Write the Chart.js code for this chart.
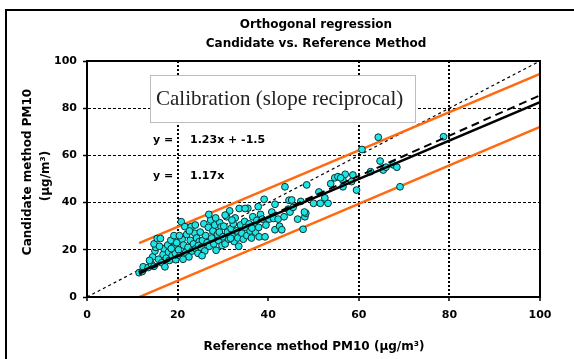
<!DOCTYPE html>
<html>
<head>
<meta charset="utf-8">
<script src="https://cdn.jsdelivr.net/npm/chart.js@4.4.1/dist/chart.umd.min.js"></script>
<style>
  html, body { margin: 0; padding: 0; background: #fff; }
  #wrap { position: relative; width: 574px; height: 359px; }
</style>
</head>
<body>
<div id="wrap"><canvas id="regChart" width="574" height="359"></canvas></div>
<script>
// Reference method PM10 (x) vs candidate method PM10 (y)
const refX = [
  11.5, 12.2, 12.4, 13.5, 14.2, 14.8, 14.5, 15.0, 15.2, 14.8, 15.5, 16.2, 15.8, 13.8,
  16.5, 16.8, 17.0, 17.5, 17.8, 18.0, 18.2, 18.5, 18.8, 19.0, 19.2, 19.5, 19.8, 17.2, 18.6, 16.0, 19.6,
  20.2, 20.5, 20.8, 21.0, 21.3, 21.6, 21.8, 22.0, 22.3, 22.5, 22.8, 23.0, 23.2, 23.5, 23.8, 24.0, 24.2, 24.5, 24.8, 21.2, 22.6, 23.9, 24.6, 20.4,
  25.0, 25.2, 25.5, 25.8, 26.0, 26.2, 26.5, 26.8, 27.0, 27.3, 27.5, 27.8, 28.0, 28.2, 28.5, 28.8, 29.0, 29.3, 29.6, 29.8, 25.4, 26.9, 28.4, 29.2,
  30.0, 30.2, 30.5, 30.8, 31.0, 31.3, 31.5, 31.8, 32.0, 32.3, 32.5, 32.7, 33.0, 33.3, 33.6, 33.9, 34.2, 34.5, 34.8, 31.7, 33.5, 30.5, 32.0,
  35.0, 35.3, 35.5, 35.8, 36.0, 36.3, 36.6, 36.9, 37.2, 37.5, 37.8, 38.0, 38.3, 38.7, 39.1, 39.3, 39.5, 36.4, 37.9, 34.9,
  40.2, 40.8, 41.2, 41.5, 41.5, 42.2, 42.5, 43.0, 43.7, 44.4, 44.6, 44.8, 43.5, 45.2,
  45.5, 46.5, 47.7, 48.1, 48.3, 48.5, 48.0, 47.2,
  50.0, 51.5, 53.2, 51.2, 52.5, 54.7, 53.8,
  55.4, 56.5, 56.5, 57.0, 58.7, 58.4, 59.5, 56.0,
  60.7, 62.6, 64.3, 64.7, 65.4, 67.6, 68.4, 69.1, 66.0, 78.7
];
const candY = [
  10.3, 10.8, 12.8, 12.5, 14.0, 13.0, 17.0, 19.5, 21.0, 22.5, 24.8, 24.8, 16.0, 15.5,
  14.5, 18.0, 20.5, 16.5, 22.0, 19.0, 15.5, 24.0, 17.5, 21.0, 26.0, 18.5, 23.0, 12.8, 20.5, 21.5, 15.8,
  20.0, 17.5, 31.9, 24.5, 22.0, 29.8, 19.0, 26.5, 21.0, 17.0, 24.0, 29.8, 19.5, 22.5, 27.0, 20.5, 25.0, 18.5, 23.5, 16.0, 28.0, 30.5, 21.8, 26.0,
  27.5, 21.0, 24.0, 31.0, 19.5, 26.0, 23.0, 29.5, 21.5, 32.6, 25.0, 28.0, 22.5, 30.5, 19.8, 26.5, 24.0, 31.5, 29.7, 21.8, 17.5, 35.0, 33.5, 27.5,
  25.5, 30.0, 22.5, 34.0, 27.5, 24.5, 36.5, 29.0, 26.0, 31.0, 23.5, 33.5, 28.0, 25.0, 37.5, 30.5, 27.0, 24.5, 32.0, 24.9, 21.5, 34.7, 32.6,
  29.5, 26.0, 37.6, 31.0, 28.0, 25.0, 34.0, 30.0, 27.5, 32.5, 38.3, 25.5, 35.0, 33.0, 41.4, 25.5, 30.5, 29.2, 29.5, 37.5,
  33.0, 36.0, 33.3, 39.3, 28.5, 33.0, 30.0, 28.5, 46.7, 37.2, 41.0, 36.0, 34.0, 41.1,
  38.0, 33.0, 28.7, 34.0, 35.5, 47.5, 36.0, 40.5,
  39.7, 39.7, 39.7, 44.5, 42.0, 50.5, 48.0,
  51.0, 49.5, 46.7, 52.0, 51.7, 48.9, 45.3, 50.5,
  62.5, 53.1, 67.7, 57.6, 53.8, 56.0, 55.0, 46.7, 55.0, 67.9
];

// fitted lines (slope, intercept) and the x range they span
const calibSlope = 1 / 1.23;          // reciprocal of y = 1.23x + -1.5
const calibIntercept = 1.5 / 1.23;
const originSlope = 1 / 1.17;         // reciprocal of y = 1.17x
const upperBand = [0.81, 13.5];
const lowerBand = [0.815, -9.4];
const fitRange = [11.5, 100];
const identityRange = [0, 100];
const xTicks = [0, 20, 40, 60, 80, 100];
const xGridValues = [20, 60, 80];

const lineData = (range, slope, icpt) => range.map(x => ({ x: x, y: slope * x + icpt }));

const tickFont = { family: 'DejaVu Sans', size: 11, weight: 'bold' };

// frame, titles, equations and the calibration note
const decorations = {
  id: 'decorations',
  afterDraw(chart) {
    const ctx = chart.ctx;
    const a = chart.chartArea;
    ctx.save();
    ctx.fillStyle = '#000';
    ctx.fillRect(5, 9, 2, 350);
    ctx.fillRect(5, 9, 569, 2);

    ctx.strokeStyle = '#000';
    ctx.lineWidth = 2;
    ctx.strokeRect(a.left, a.top, a.right - a.left, a.bottom - a.top);

    ctx.textAlign = 'center';
    ctx.textBaseline = 'middle';
    ctx.font = 'bold 12px "DejaVu Sans"';
    ctx.fillText('Orthogonal regression', 316, 25);
    ctx.fillText('Candidate vs. Reference Method', 316, 44);
    ctx.fillText('Reference method PM10 (\u00b5g/m\u00b3)', 314, 347);

    ctx.save();
    ctx.translate(28, 172);
    ctx.rotate(-Math.PI / 2);
    ctx.fillText('Candidate method PM10', 0, 0);
    ctx.restore();
    ctx.save();
    ctx.translate(46, 176);
    ctx.rotate(-Math.PI / 2);
    ctx.fillText('(\u00b5g/m\u00b3)', 0, 0);
    ctx.restore();

    ctx.textAlign = 'left';
    ctx.font = 'bold 11px "DejaVu Sans"';
    ctx.fillText('y =', 153, 140);
    ctx.fillText('1.23x + -1.5', 190, 140);
    ctx.fillText('y =', 153, 176);
    ctx.fillText('1.17x', 190, 176);

    ctx.fillStyle = '#fff';
    ctx.fillRect(150, 75, 265, 48);
    ctx.strokeStyle = '#bdbdbd';
    ctx.lineWidth = 1;
    ctx.strokeRect(150.5, 75.5, 265, 47);
    ctx.fillStyle = '#222';
    ctx.font = '21px "Liberation Serif"';
    ctx.fillText('Calibration (slope reciprocal)', 156, 99);
    ctx.restore();
  }
};

new Chart(document.getElementById('regChart'), {
  type: 'scatter',
  data: {
    datasets: [
      {
        type: 'line', label: 'calibration', order: 0,
        data: lineData(fitRange, calibSlope, calibIntercept),
        borderColor: '#000', borderWidth: 2.5, pointRadius: 0, fill: false
      },
      {
        type: 'line', label: 'through origin', order: 0,
        data: lineData(fitRange, originSlope, 0),
        borderColor: '#000', borderWidth: 2, borderDash: [8, 5], pointRadius: 0, fill: false
      },
      {
        label: 'measurements', order: 1,
        data: refX.map((x, i) => ({ x: x, y: candY[i] })),
        backgroundColor: '#1ee6e6', borderColor: '#0a2f2f', borderWidth: 1, pointRadius: 3.4
      },
      {
        type: 'line', label: 'upper', order: 2,
        data: lineData(fitRange, upperBand[0], upperBand[1]),
        borderColor: '#ff6a10', borderWidth: 2.5, pointRadius: 0, fill: false
      },
      {
        type: 'line', label: 'lower', order: 2,
        data: lineData(fitRange, lowerBand[0], lowerBand[1]),
        borderColor: '#ff6a10', borderWidth: 2.5, pointRadius: 0, fill: false
      },
      {
        type: 'line', label: '1:1', order: 3,
        data: lineData(identityRange, 1, 0),
        borderColor: '#000', borderWidth: 1.2, borderDash: [3, 3], pointRadius: 0, fill: false
      }
    ]
  },
  options: {
    responsive: false,
    animation: false,
    layout: { padding: { left: 0, top: 61, right: 34, bottom: 0 } },
    plugins: {
      legend: { display: false },
      tooltip: { enabled: false }
    },
    scales: {
      x: {
        type: 'linear', min: 0, max: 100,
        afterFit: s => { s.height = 62; },
        afterBuildTicks: s => { s.ticks = xTicks.map(v => ({ value: v })); },
        ticks: { color: '#000', font: tickFont, padding: 8, maxRotation: 0 },
        grid: {
          color: c => xGridValues.includes(c.tick.value) ? '#000' : 'rgba(0,0,0,0)',
          lineWidth: 2, tickLength: 4, tickColor: '#000', tickWidth: 1.5, tickBorderDash: []
        },
        border: { display: true, color: '#000', width: 2, dash: [2, 2] }
      },
      y: {
        type: 'linear', min: 0, max: 100,
        afterFit: s => { s.width = 87; },
        ticks: { stepSize: 20, color: '#000', font: tickFont, padding: 6 },
        grid: {
          color: c => (c.tick.value > 0 && c.tick.value < 100) ? '#000' : 'rgba(0,0,0,0)',
          lineWidth: 1, tickLength: 4, tickColor: '#000', tickWidth: 1.5, tickBorderDash: []
        },
        border: { display: true, color: '#000', width: 2, dash: [3, 2] }
      }
    }
  },
  plugins: [decorations]
});
</script>
</body>
</html>
